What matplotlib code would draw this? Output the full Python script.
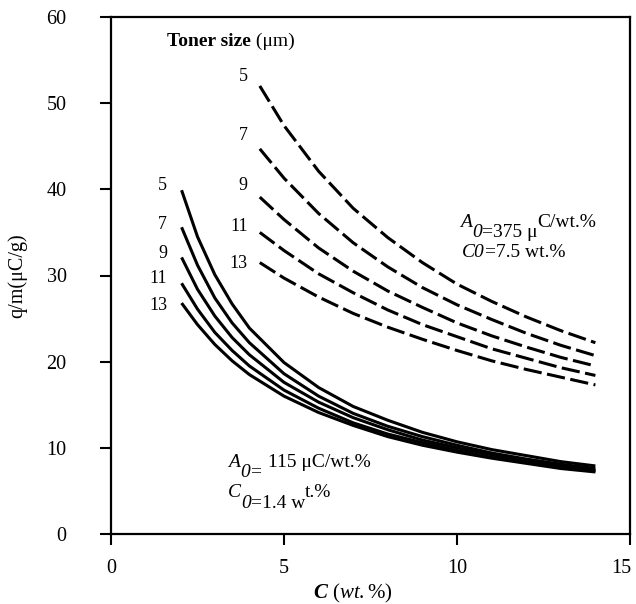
import matplotlib
matplotlib.use("Agg")
import matplotlib.pyplot as plt
from matplotlib.transforms import ScaledTranslation

plt.rcParams['font.family'] = ['Liberation Serif', 'DejaVu Serif']
plt.rcParams['mathtext.fontset'] = 'custom'
plt.rcParams['mathtext.rm'] = 'Liberation Serif'
plt.rcParams['mathtext.it'] = 'Liberation Serif:italic'
plt.rcParams['mathtext.bf'] = 'Liberation Serif:style=italic:weight=bold'

# ---- data: A0 = 115 uC/wt.%, C0 = 1.4 wt.% (solid curves)
sizes = ["5", "7", "9", "11", "13"]
c_low = [2.04, 2.5, 3, 3.5, 4, 5, 6, 7, 8, 9, 10, 11, 12, 13, 14]
qm_low_5 = [39.9, 34.5, 30.1, 26.7, 23.9, 19.9, 17.0, 14.8, 13.2, 11.8, 10.7, 9.8, 9.1, 8.4, 7.9]
qm_low_7 = [35.6, 31.2, 27.4, 24.5, 22.2, 18.6, 16.0, 14.0, 12.5, 11.3, 10.3, 9.4, 8.7, 8.1, 7.6]
qm_low_9 = [32.1, 28.4, 25.3, 22.8, 20.8, 17.6, 15.3, 13.5, 12.1, 10.9, 10.0, 9.2, 8.5, 7.9, 7.4]
qm_low_11 = [29.1, 26.1, 23.4, 21.3, 19.5, 16.7, 14.6, 12.9, 11.6, 10.6, 9.7, 8.9, 8.3, 7.7, 7.3]
qm_low_13 = [26.8, 24.3, 22.0, 20.1, 18.5, 16.0, 14.1, 12.6, 11.3, 10.3, 9.5, 8.8, 8.2, 7.6, 7.2]

# ---- data: A0 = 375 uC/wt.%, C0 = 7.5 wt.% (dashed curves)
c_high = [4.3, 5, 6, 7, 8, 9, 10, 11, 12, 13, 14]
qm_high_5 = [52.0, 47.4, 42.1, 37.8, 34.4, 31.5, 29.0, 27.0, 25.2, 23.6, 22.2]
qm_high_7 = [44.7, 41.3, 37.2, 33.8, 31.0, 28.6, 26.6, 24.9, 23.3, 21.9, 20.7]
qm_high_9 = [39.1, 36.5, 33.2, 30.5, 28.2, 26.3, 24.5, 23.0, 21.7, 20.5, 19.5]
qm_high_11 = [35.0, 32.9, 30.2, 28.0, 26.0, 24.3, 22.9, 21.5, 20.4, 19.3, 18.4]
qm_high_13 = [31.5, 29.7, 27.5, 25.6, 24.0, 22.6, 21.3, 20.1, 19.1, 18.2, 17.3]

low_series = [qm_low_5, qm_low_7, qm_low_9, qm_low_11, qm_low_13]
high_series = [qm_high_5, qm_high_7, qm_high_9, qm_high_11, qm_high_13]

# label anchor values (data coords)
low_label_y = [40.5, 35.9, 32.6, 29.6, 26.5]
high_label_y = [53.1, 46.2, 40.4, 35.7, 31.4]

xticks = [0, 5, 10, 15]
yticks = [0, 10, 20, 30, 40, 50, 60]

fig = plt.figure(figsize=(6.36, 6.04), dpi=100)
ax = fig.add_axes([111/636, 1 - 534/604, (630-111)/636, (534-17)/604])

for ys in low_series:
    ax.plot(c_low, ys, color='black', lw=2.2, solid_capstyle='butt')
for ys in high_series:
    ax.plot(c_high, ys, color='black', lw=2.2, linestyle=(0, (6, 1.8)))

for lab, yv in zip(sizes, low_label_y):
    ax.text(1.62, yv, lab, ha='right', va='center', fontsize=13)
for lab, yv in zip(sizes, high_label_y):
    ax.text(3.95, yv, lab, ha='right', va='center', fontsize=13)

renderer = fig.canvas.get_renderer()


def rich(x, y, pieces, fs=14):
    dx = 0.0
    for txt, style, weight, dy in pieces:
        tr = ax.transData + ScaledTranslation(dx / 72.0, dy / 72.0, fig.dpi_scale_trans)
        t = ax.text(x, y, txt, transform=tr, ha='left', va='baseline',
                    fontsize=fs, fontstyle=style, fontweight=weight)
        bb = t.get_window_extent(renderer)
        dx += bb.width * 72.0 / fig.dpi


rich(1.62, 56.6, [("Toner size", 'normal', 'bold', 0), (" (μm)", 'normal', 'normal', 0)], fs=14)

rich(10.09, 35.63, [("A", 'italic', 'normal', 0), ("0", 'italic', 'normal', -7),
                    ("=375 μ", 'normal', 'normal', -7), ("C/wt.%", 'normal', 'normal', 0)])
rich(10.14, 32.15, [("C0", 'italic', 'normal', 0), ("=7.5 wt.%", 'normal', 'normal', 0)])

rich(3.38, 7.78, [("A", 'italic', 'normal', 0), ("0=", 'italic', 'normal', -7),
                  (" 115 μC/wt.%", 'normal', 'normal', 0)])
rich(3.38, 4.29, [("C", 'italic', 'normal', 0), ("0", 'italic', 'normal', -8),
                  ("=1.4 w", 'normal', 'normal', -8), ("t.%", 'normal', 'normal', 0)])

ax.set_xlim(0, 15)
ax.set_ylim(0, 60)
ax.set_xticks(xticks)
ax.set_yticks(yticks)
ax.set_xticklabels([str(t) for t in xticks])
ax.set_yticklabels([str(t) for t in yticks])
ax.tick_params(axis='both', direction='out', length=8, width=1.5, labelsize=14.5)
ax.tick_params(axis='y', pad=24)
ax.tick_params(axis='x', pad=10)
ax.tick_params(top=False, right=False)
for s in ax.spines.values():
    s.set_linewidth(1.6)

lab15 = ax.get_xticklabels()[-1]
lab15.set_transform(lab15.get_transform() + ScaledTranslation(-6/72, 0, fig.dpi_scale_trans))

ax.set_xlabel(r"$\mathbf{C}$ ($\mathit{wt.\%}$)", fontsize=15)
ax.xaxis.set_label_coords(7.0/15, -0.093)
ax.set_ylabel("q/m(μC/g)", fontsize=14.5, labelpad=14)

fig.savefig("out.png", dpi=100)
